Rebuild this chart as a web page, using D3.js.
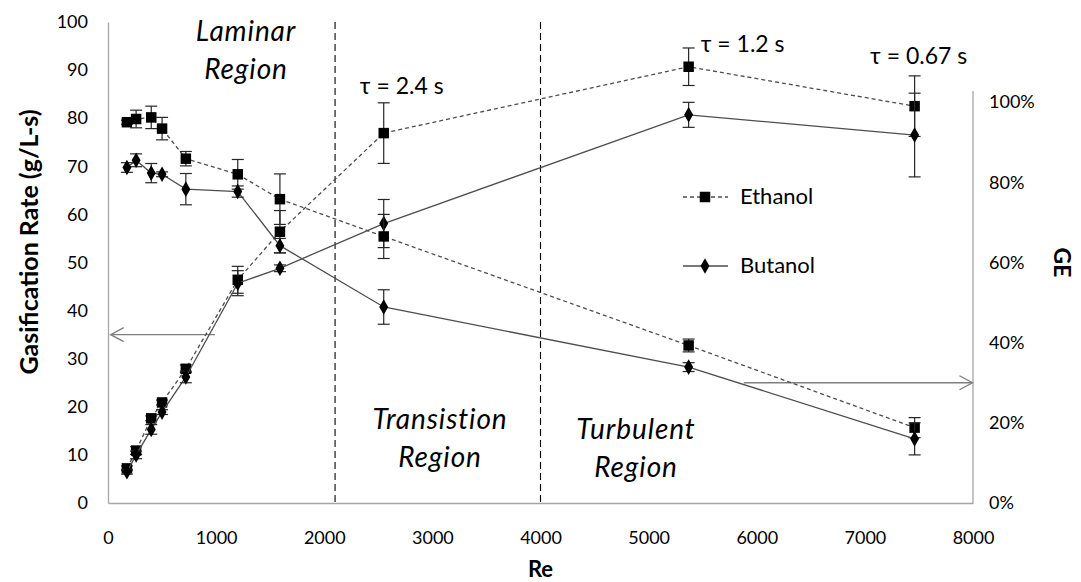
<!DOCTYPE html>
<html>
<head>
<meta charset="utf-8">
<script src="https://cdn.jsdelivr.net/npm/d3@7/dist/d3.min.js"></script>
<style>
  html, body { margin: 0; padding: 0; background: #fff; }
  svg { display: block; }
  text { font-family: Lato, "Open Sans", sans-serif; fill: #000; }
</style>
</head>
<body>
<script>
// Reynolds numbers of the runs
const reValues = [175, 260, 400, 500, 720, 1200, 1590, 2550, 5370, 7460];

// Gasification rate (g/L-s), left axis
const ethanolRate    = [7.2, 10.9, 17.6, 20.9, 27.9, 46.4, 56.4, 76.9, 90.7, 82.5];
const ethanolRateErr = [0.5, 0.8, 0.5, 0.5, 0.8, 2.8, 4.4, 6.3, 3.9, 6.3];
const butanolRate    = [6.5, 10.0, 15.3, 18.9, 26.2, 45.7, 48.8, 58.1, 80.7, 76.5];
const butanolRateErr = [0.5, 0.8, 1.0, 0.5, 1.2, 2.6, 0.7, 5.0, 2.6, 8.7];

// Gasification efficiency (fraction), right axis
const ethanolGE    = [0.950, 0.958, 0.962, 0.934, 0.859, 0.820, 0.758, 0.665, 0.393, 0.188];
const ethanolGEErr = [0.005, 0.022, 0.028, 0.028, 0.018, 0.037, 0.063, 0.055, 0.016, 0.025];
const butanolGE    = [0.837, 0.855, 0.823, 0.820, 0.783, 0.777, 0.642, 0.489, 0.339, 0.160];
const butanolGEErr = [0.012, 0.016, 0.024, 0.006, 0.039, 0.014, 0.018, 0.043, 0.011, 0.040];

// Axis ticks
const xTicks = [0, 1000, 2000, 3000, 4000, 5000, 6000, 7000, 8000];
const leftTicks = [0, 10, 20, 30, 40, 50, 60, 70, 80, 90, 100];
const rightTicks = [0, 0.2, 0.4, 0.6, 0.8, 1.0];

// Flow regime boundaries (Re) and residence-time labels
const regimeBounds = [2100, 4000];
const tauLabels = ["τ = 2.4 s", "τ = 1.2 s", "τ = 0.67 s"];
const tauRe = [2550, 5370, 7460];

const W = 1081, H = 582;
const svg = d3.select("body").append("svg").attr("width", W).attr("height", H);

const x = d3.scaleLinear().domain([0, 8000]).range([108, 973]);
const yL = d3.scaleLinear().domain([0, 100]).range([503, 22]);
const yR = d3.scaleLinear().domain([0, 1.2]).range([503, 22]);

const axisColor = "#a6a6a6";
const lineColor = "#4d4d4d";

// Bottom axis
const gx = svg.append("g").attr("transform", `translate(0,${yL(0)})`)
  .call(d3.axisBottom(x).tickValues(xTicks).tickSize(0).tickPadding(28).tickFormat(d3.format("d")));
gx.select(".domain").attr("stroke", axisColor).attr("stroke-width", 1.3);
gx.selectAll("text").attr("font-size", 18).attr("fill", "#000");

// Left axis
const gl = svg.append("g").attr("transform", `translate(${x(0)},0)`)
  .call(d3.axisLeft(yL).tickValues(leftTicks).tickSize(0).tickPadding(20).tickFormat(d3.format("d")));
gl.select(".domain").attr("stroke", axisColor).attr("stroke-width", 1.3);
gl.selectAll("text").attr("font-size", 18).attr("fill", "#000");

// Right axis (line stops just above the 100% tick)
const gr = svg.append("g").attr("transform", `translate(${x(8000)},0)`)
  .call(d3.axisRight(yR).tickValues(rightTicks).tickSize(0).tickPadding(16).tickFormat(d3.format(".0%")));
gr.select(".domain").attr("d", `M0,${yR(1.028)}V${yR(0)}`).attr("stroke", axisColor).attr("stroke-width", 1.3);
gr.selectAll("text").attr("font-size", 18).attr("fill", "#000");

// Axis titles
svg.append("text")
  .attr("transform", `translate(38,242) rotate(-90)`)
  .attr("text-anchor", "middle").attr("font-size", 25).attr("font-weight", "bold")
  .text("Gasification Rate (g/L-s)");
svg.append("text")
  .attr("x", x(4000)).attr("y", 577)
  .attr("text-anchor", "middle").attr("font-size", 22).attr("font-weight", "bold")
  .text("Re");
svg.append("text")
  .attr("transform", `translate(1054,${yL(50)}) rotate(90)`)
  .attr("text-anchor", "middle").attr("font-size", 23).attr("font-weight", "bold")
  .text("GE");

// Regime boundaries
svg.append("g").selectAll("line").data(regimeBounds).join("line")
  .attr("x1", d => x(d)).attr("x2", d => x(d))
  .attr("y1", yL(100)).attr("y2", yL(0))
  .attr("stroke", "#000").attr("stroke-width", 1.1).attr("stroke-dasharray", "7,4");

// Regime labels
const regimeText = [
  { lines: ["Laminar", "Region"], cx: 246, y0: 41 },
  { lines: ["Transistion", "Region"], cx: 440, y0: 429 },
  { lines: ["Turbulent", "Region"], cx: 636, y0: 439 }
];
regimeText.forEach(r => {
  r.lines.forEach((t, i) => {
    svg.append("text").attr("x", r.cx).attr("y", r.y0 + i * 38)
      .attr("text-anchor", "middle").attr("font-size", 28).attr("font-style", "italic")
      .attr("letter-spacing", 0.9)
      .text(t);
  });
});

// Arrows pointing each pair of curves to its axis
function arrow(x1, x2, y, dir) {
  const g = svg.append("g").attr("stroke", "#7f7f7f").attr("stroke-width", 1.4).attr("fill", "none");
  g.append("line").attr("x1", x1).attr("x2", x2).attr("y1", y).attr("y2", y);
  const hx = x2 - dir * 13;
  g.append("path").attr("d", `M${hx},${y - 7}L${x2},${y}L${hx},${y + 7}`);
}
arrow(x(990), x(25), yL(35), -1);
arrow(x(5880), x(7995), yR(0.30), 1);

// Series definitions
const series = [
  { name: "Ethanol", vals: ethanolRate, errs: ethanolRateErr, y: yL, dash: "4,3", marker: "square" },
  { name: "Butanol", vals: butanolRate, errs: butanolRateErr, y: yL, dash: null, marker: "diamond" },
  { name: "Ethanol", vals: ethanolGE, errs: ethanolGEErr, y: yR, dash: "4,3", marker: "square" },
  { name: "Butanol", vals: butanolGE, errs: butanolGEErr, y: yR, dash: null, marker: "diamond" }
];

const symSquare = d3.symbol().type(d3.symbolSquare).size(110);
const symDiamond = d3.symbol().type(d3.symbolDiamond).size(70);

series.forEach(s => {
  const pts = reValues.map((r, i) => ({ r, v: s.vals[i], e: s.errs[i] }));
  const line = d3.line().x(d => x(d.r)).y(d => s.y(d.v));
  svg.append("path").datum(pts)
    .attr("d", line).attr("fill", "none")
    .attr("stroke", lineColor).attr("stroke-width", 1.3)
    .attr("stroke-dasharray", s.dash);

  // error bars
  const eb = svg.append("g").attr("stroke", "#262626").attr("stroke-width", 1.2);
  pts.forEach(d => {
    const cx = x(d.r), top = s.y(d.v + d.e), bot = s.y(d.v - d.e);
    eb.append("line").attr("x1", cx).attr("x2", cx).attr("y1", top).attr("y2", bot);
    eb.append("line").attr("x1", cx - 6).attr("x2", cx + 6).attr("y1", top).attr("y2", top);
    eb.append("line").attr("x1", cx - 6).attr("x2", cx + 6).attr("y1", bot).attr("y2", bot);
  });

  svg.append("g").selectAll("path").data(pts).join("path")
    .attr("d", s.marker === "square" ? symSquare : symDiamond)
    .attr("transform", d => `translate(${x(d.r)},${s.y(d.v)})`)
    .attr("fill", "#000");
});

// Residence-time labels
const tauPos = [
  { dx: 18, y: 94 }, { dx: 54, y: 52 }, { dx: 4, y: 64 }
];
tauLabels.forEach((t, i) => {
  svg.append("text").attr("x", x(tauRe[i]) + tauPos[i].dx).attr("y", tauPos[i].y)
    .attr("text-anchor", "middle").attr("font-size", 23).text(t);
});

// Legend
const legend = [
  { name: "Ethanol", dash: "4,3", marker: "square", y: 197 },
  { name: "Butanol", dash: null, marker: "diamond", y: 266 }
];
legend.forEach(l => {
  const g = svg.append("g");
  g.append("line").attr("x1", 683).attr("x2", 728).attr("y1", l.y).attr("y2", l.y)
    .attr("stroke", lineColor).attr("stroke-width", 1.3).attr("stroke-dasharray", l.dash);
  g.append("path").attr("d", l.marker === "square" ? symSquare : symDiamond)
    .attr("transform", `translate(705,${l.y})`).attr("fill", "#000");
  g.append("text").attr("x", 740).attr("y", l.y + 7).attr("font-size", 22).text(l.name);
});
</script>
</body>
</html>
